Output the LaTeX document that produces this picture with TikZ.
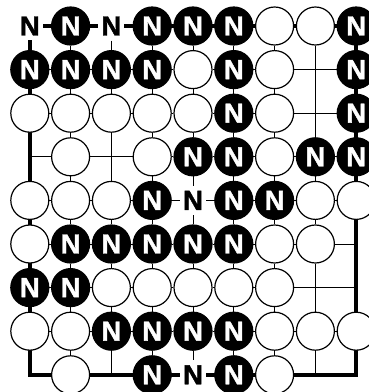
\documentclass[tikz,border=0pt]{standalone}
\usepackage{fontspec}
\setmainfont{Liberation Sans}
\newfontfamily\stonefont{Liberation Sans}[FakeBold=1.5]
\newcommand\nfnt{\stonefont\bfseries\fontsize{27.5}{27.5}\selectfont}
\usetikzlibrary{backgrounds}
\def\txtB{\nfnt N}\def\txtT{\nfnt N}\def\txtW{}\def\txtE{}
\tikzset{
  stone/.style={circle, minimum size=38pt, inner sep=0pt, line width=1.2pt},
  typeB/.style={stone, fill=black, draw=black, text=white},
  typeW/.style={stone, fill=white, draw=black},
  typeT/.style={rectangle, fill=white, inner xsep=3pt, inner ysep=5pt, text=black},
  typeE/.style={coordinate},
  gridthin/.style={line width=0.9pt, black},
  gridthick/.style={line width=4pt, line cap=rect, black},
}
\begin{document}
\begin{tikzpicture}[x=1pt,y=1pt]
\useasboundingbox (0,0) rectangle (369,392);
\foreach \r/\row in {
  1/{T,B,T,B,B,B,W,W,B},
  2/{B,B,B,B,W,B,W,E,B},
  3/{W,W,W,W,W,B,W,E,B},
  4/{E,W,E,W,B,B,W,B,B},
  5/{W,W,W,B,T,B,B,W,W},
  6/{W,B,B,B,B,B,W,W,E},
  7/{B,B,W,W,W,W,W,E,E},
  8/{W,W,B,B,B,B,W,W,W},
  9/{E,W,E,B,T,B,W,E,E}}{
  \foreach \t [count=\c] in \row {
    \node[type\t] (n-\r-\c) at ({29.8+40.8*(\c-1)}, {366-43.6*(\r-1)}) {\csname txt\t\endcsname};
  }
}
\begin{scope}[on background layer]
\fill[white] (0,0) rectangle (369,392);
\foreach \r in {1,...,9}{
  \foreach \c in {1,...,8}{
    \pgfmathtruncatemacro\cn{\c+1}
    \ifnum\r=1 \def\ls{gridthick}\else\ifnum\r=9 \def\ls{gridthick}\else\def\ls{gridthin}\fi\fi
    \draw[\ls] (n-\r-\c) -- (n-\r-\cn);
  }
}
\foreach \c in {1,...,9}{
  \foreach \r in {1,...,8}{
    \pgfmathtruncatemacro\rn{\r+1}
    \ifnum\c=1 \def\ls{gridthick}\else\ifnum\c=9 \def\ls{gridthick}\else\def\ls{gridthin}\fi\fi
    \draw[\ls] (n-\r-\c) -- (n-\rn-\c);
  }
}
\end{scope}
\end{tikzpicture}
\end{document}
